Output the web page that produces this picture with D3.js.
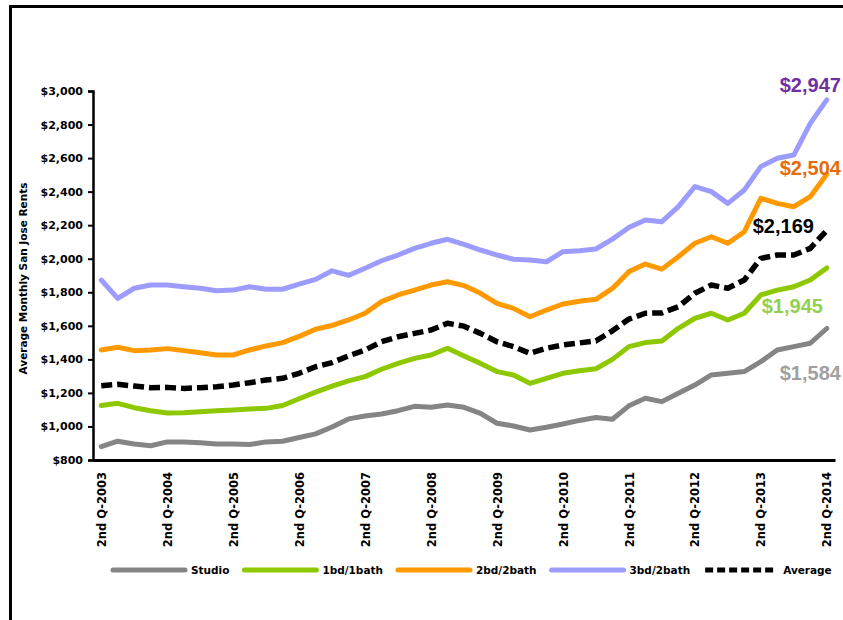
<!DOCTYPE html>
<html>
<head>
<meta charset="utf-8">
<script src="https://cdn.jsdelivr.net/npm/d3@7/dist/d3.min.js"></script>
<style>
  html, body { margin: 0; padding: 0; background: #fff; }
  svg { display: block; }
</style>
</head>
<body>
<svg id="chart" width="843" height="620"></svg>
<script>
// ---------------- DATA ----------------
const quarters = [
  "2nd Q-2003","3rd Q-2003","4th Q-2003",
  "1st Q-2004","2nd Q-2004","3rd Q-2004","4th Q-2004",
  "1st Q-2005","2nd Q-2005","3rd Q-2005","4th Q-2005",
  "1st Q-2006","2nd Q-2006","3rd Q-2006","4th Q-2006",
  "1st Q-2007","2nd Q-2007","3rd Q-2007","4th Q-2007",
  "1st Q-2008","2nd Q-2008","3rd Q-2008","4th Q-2008",
  "1st Q-2009","2nd Q-2009","3rd Q-2009","4th Q-2009",
  "1st Q-2010","2nd Q-2010","3rd Q-2010","4th Q-2010",
  "1st Q-2011","2nd Q-2011","3rd Q-2011","4th Q-2011",
  "1st Q-2012","2nd Q-2012","3rd Q-2012","4th Q-2012",
  "1st Q-2013","2nd Q-2013","3rd Q-2013","4th Q-2013",
  "1st Q-2014","2nd Q-2014"
];
const xTickLabels = ["2nd Q-2003","2nd Q-2004","2nd Q-2005","2nd Q-2006","2nd Q-2007","2nd Q-2008",
  "2nd Q-2009","2nd Q-2010","2nd Q-2011","2nd Q-2012","2nd Q-2013","2nd Q-2014"];
const yTicks = [800,1000,1200,1400,1600,1800,2000,2200,2400,2600,2800,3000];

const studio = [880,912,895,885,908,908,903,896,895,892,908,912,934,956,997,1045,1062,1074,1094,1120,1114,1128,1114,
  1078,1019,1003,979,995,1015,1036,1053,1043,1123,1168,1148,1198,1247,1307,1317,1327,1386,1456,1476,1496,1584];
const oneBed = [1125,1138,1112,1094,1080,1082,1088,1094,1098,1104,1108,1125,1165,1205,1240,1272,1297,1341,1376,1406,1426,1466,1420,
  1376,1327,1307,1257,1287,1317,1332,1344,1400,1476,1500,1510,1585,1645,1675,1635,1675,1784,1813,1833,1873,1945];
const twoBed = [1456,1472,1452,1456,1464,1452,1440,1426,1426,1456,1480,1500,1537,1580,1602,1635,1675,1744,1784,1813,1843,1863,1840,
  1794,1734,1704,1654,1694,1730,1747,1758,1823,1923,1968,1938,2012,2092,2131,2092,2161,2360,2330,2310,2370,2504];
const threeBed = [1873,1764,1824,1843,1843,1833,1824,1809,1813,1833,1818,1818,1848,1877,1928,1901,1943,1988,2022,2062,2092,2116,2085,
  2052,2022,1997,1992,1982,2042,2048,2058,2117,2186,2231,2221,2311,2430,2400,2330,2410,2549,2599,2618,2807,2947];
const average = [1243,1251,1241,1231,1233,1227,1231,1237,1247,1261,1277,1287,1317,1356,1381,1421,1456,1505,1535,1555,1575,1615,1598,
  1555,1505,1476,1436,1466,1486,1498,1510,1570,1640,1675,1677,1714,1794,1843,1824,1873,2002,2022,2022,2062,2169];

const seriesNames = ["Studio","1bd/1bath","2bd/2bath","3bd/2bath","Average"];
const seriesValues = [studio, oneBed, twoBed, threeBed, average];
const endLabels = ["$1,584","$1,945","$2,504","$2,947","$2,169"];

// ---------------- STYLE ----------------
const lineColors = ["#858585","#8DC800","#FF9900","#9C9CFF","#000000"];
const labelColors = ["#A0A0A0","#92D050","#E46C0A","#7030A0","#000000"];
const labelOffsets = [[-47,51],[-65,45],[-47,1],[-47,-8],[-74,3]]; // dx, dy from last point

const svg = d3.select("#chart");
const W = 843, H = 620;
const plot = {left: 93, right: 835, top: 91, bottom: 460};

// frame
svg.append("line").attr("x1",9).attr("x2",W).attr("y1",6.5).attr("y2",6.5)
  .attr("stroke","#000").attr("stroke-width",3);
svg.append("line").attr("x1",10.5).attr("x2",10.5).attr("y1",5).attr("y2",H)
  .attr("stroke","#000").attr("stroke-width",3);

const x = d3.scalePoint().domain(quarters).range([plot.left, plot.right]).padding(0.5);
const y = d3.scaleLinear().domain([800, 3000]).range([plot.bottom, plot.top]);

const axisFont = "'DejaVu Sans', sans-serif";

// Y axis
const yAxis = d3.axisLeft(y).tickValues(yTicks).tickSize(5).tickPadding(5)
  .tickFormat(d => "$" + d3.format(",")(d));
const gy = svg.append("g").attr("transform", `translate(${plot.left},0)`).call(yAxis);
gy.select(".domain").attr("stroke","#000").attr("stroke-width",2.5);
gy.selectAll(".tick line").attr("stroke","#000").attr("stroke-width",2);
gy.selectAll(".tick text").attr("font-family",axisFont).attr("font-weight","bold")
  .attr("font-size","11px").attr("fill","#000");

// X axis
const xAxis = d3.axisBottom(x).tickValues(xTickLabels).tickSize(0).tickPadding(0);
const gx = svg.append("g").attr("transform", `translate(0,${plot.bottom})`).call(xAxis);
gx.select(".domain").attr("stroke","#000").attr("stroke-width",3);
gx.selectAll(".tick text")
  .attr("font-family",axisFont).attr("font-weight","bold").attr("font-size","11.5px").attr("fill","#000")
  .attr("text-anchor","end")
  .attr("transform","translate(0,12) rotate(-90)")
  .attr("x",0).attr("y",0).attr("dy","0.36em");

// Y title
svg.append("text")
  .attr("transform", `translate(27,${(plot.top + plot.bottom)/2 + 3}) rotate(-90)`)
  .attr("text-anchor","middle")
  .attr("font-family",axisFont).attr("font-weight","bold").attr("font-size","10.5px")
  .text("Average Monthly  San Jose Rents");

// Lines
const line = d3.line().x((d,i) => x(quarters[i])).y(d => y(d)).curve(d3.curveLinear);
seriesValues.forEach((vals, k) => {
  svg.append("path").datum(vals)
    .attr("fill","none")
    .attr("stroke", lineColors[k])
    .attr("stroke-width", k === 4 ? 5.5 : 5)
    .attr("stroke-linejoin","round")
    .attr("stroke-linecap", k === 4 ? "butt" : "round")
    .attr("stroke-dasharray", k === 4 ? "11,5" : null)
    .attr("d", line);
});

// End labels
seriesValues.forEach((vals, k) => {
  const n = vals.length - 1;
  svg.append("text")
    .attr("x", x(quarters[n]) + labelOffsets[k][0])
    .attr("y", y(vals[n]) + labelOffsets[k][1])
    .attr("font-family","'Liberation Sans', Arial, sans-serif")
    .attr("font-weight","bold").attr("font-size","20px")
    .attr("fill", labelColors[k])
    .text(endLabels[k]);
});

// Legend
const legend = svg.append("g").attr("transform","translate(113,570)");
let cx = 0;
seriesNames.forEach((name, k) => {
  const g = legend.append("g").attr("transform", `translate(${cx},0)`);
  g.append("line").attr("x1",0).attr("x2",72).attr("y1",0).attr("y2",0)
    .attr("stroke", lineColors[k]).attr("stroke-width", 5)
    .attr("stroke-linecap", k === 4 ? "butt" : "round")
    .attr("stroke-dasharray", k === 4 ? "8,4" : null);
  const t = g.append("text").attr("x", 78).attr("y", 0).attr("dy","0.36em")
    .attr("font-family",axisFont).attr("font-weight","bold").attr("font-size","10.5px")
    .attr("fill","#000").text(name);
  cx += 78 + t.node().getComputedTextLength() + 15;
});
</script>
</body>
</html>
